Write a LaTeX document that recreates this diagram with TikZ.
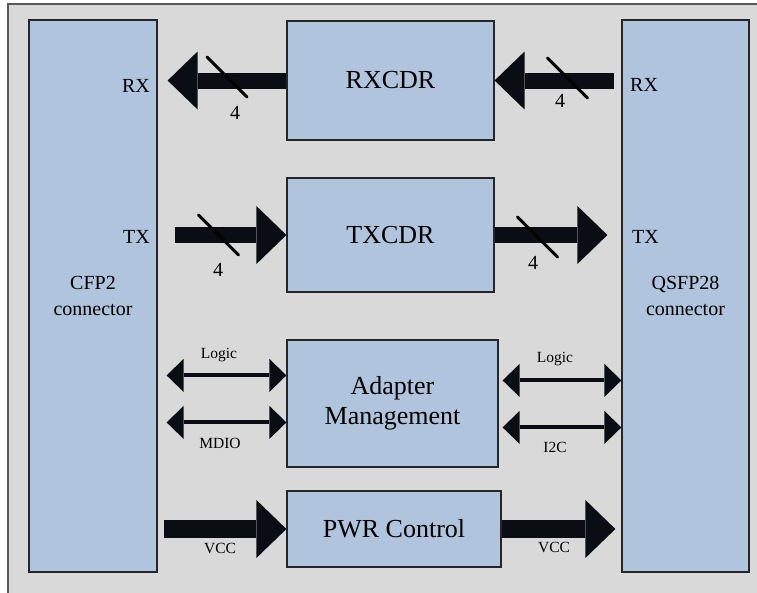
\documentclass[tikz,border=0pt]{standalone}
\usepackage{fontspec}
\setmainfont{Liberation Serif}
\usetikzlibrary{arrows.meta}
\definecolor{boxblue}{HTML}{B0C4DE}
\definecolor{panel}{HTML}{D9D9D9}
\definecolor{ink}{HTML}{0A0E14}

\begin{document}
\begin{tikzpicture}[x=1pt,y=-1pt,
box/.style = {draw=black!85,line width=1.2pt,fill=boxblue,inner sep=0pt,align=center,font=\fontsize{26}{30}\selectfont},
conn/.style = {box,minimum width=128pt,minimum height=552pt,font=\fontsize{20}{26}\selectfont},
pin/.style = {inner sep=0pt,font=\fontsize{20}{24}\selectfont},
small/.style = {inner sep=0pt,font=\fontsize{15.5}{18}\selectfont},
bus/.style = {ink,line width=16pt,-{Triangle[length=30pt,width=58pt,line width=0pt]}},
power/.style = {bus,line width=18pt},
sig/.style = {ink,line width=4pt,{Triangle[length=17pt,width=33pt,line width=0pt]}-{Triangle[length=17pt,width=33pt,line width=0pt]}},
slash/.style = {black,line width=3pt,line cap=round}
]
  \useasboundingbox (0,0) rectangle (757,592);
  \clip (0,0) rectangle (757,592);
  \fill[white] (0,0) rectangle (757,592);
  \draw[draw=black!65,line width=2pt,fill=panel] (8,4) rectangle (770,610);

  % connectors
  \node[conn] (cfp) at (93,296) {CFP2\\connector};
  \node[conn,minimum width=127pt] (qsfp) at (685.5,296) {QSFP28\\connector};
  \node[pin,anchor=base east] (cfprx) at (150,92) {RX};
  \node[pin,anchor=base east] (cfptx) at (150,243) {TX};
  \node[pin,anchor=base west] (qsfprx) at (630,91) {RX};
  \node[pin,anchor=base west] (qsfptx) at (632,243) {TX};

  % blocks
  \node[box,minimum width=207pt,minimum height=119pt] (rxcdr) at (390.5,80.5) {RXCDR};
  \node[box,minimum width=207pt,minimum height=114pt] (txcdr) at (390.5,235) {TXCDR};
  \node[box,minimum width=211pt,minimum height=127pt] (adapt) at (392.5,403.5) {Adapter\\Management};
  \node[box,minimum width=214pt,minimum height=76pt] (pwr) at (394,529) {PWR Control};

  % data lanes
  \draw[bus,shorten >=10pt] (rxcdr.west) -- (rxcdr.west -| cfp.east);
  \draw[bus,shorten <=7pt] (rxcdr.east -| qsfp.west) -- (rxcdr.east);
  \draw[bus,shorten <=17pt] (txcdr.west -| cfp.east) -- (txcdr.west);
  \draw[bus,shorten >=14pt] (txcdr.east) -- (txcdr.east -| qsfp.west);

  \coordinate (s1) at (227,77);
  \coordinate (s2) at (567.5,78);
  \coordinate (s3) at (218.5,235);
  \coordinate (s4) at (537.5,237);
  \foreach \s in {s1,s2,s3,s4}
    \draw[slash] ([shift={(-20,-20)}]\s) -- ([shift={(20,20)}]\s);
  \node[pin,anchor=base] (n1) at (235,119) {4};
  \node[pin,anchor=base] (n2) at (560,107) {4};
  \node[pin,anchor=base] (n3) at (218,276) {4};
  \node[pin,anchor=base] (n4) at (533,269) {4};

  % management
  \coordinate (la) at ([yshift=-36pt]adapt.north west);
  \coordinate (lb) at ([yshift=-83pt]adapt.north west);
  \coordinate (ra) at ([yshift=-41pt]adapt.north east);
  \coordinate (rb) at ([yshift=-88pt]adapt.north east);
  \draw[sig,shorten <=9pt] (la -| cfp.east) -- (la);
  \draw[sig,shorten <=9pt] (lb -| cfp.east) -- (lb);
  \draw[sig,shorten <=4pt] (ra) -- (ra -| qsfp.west);
  \draw[sig,shorten <=4pt] (rb) -- (rb -| qsfp.west);
  \node[small,anchor=base] (lga) at (219,358) {Logic};
  \node[small,anchor=base] (mdio) at (220,448) {MDIO};
  \node[small,anchor=base] (lgb) at (555,362) {Logic};
  \node[small,anchor=base] (i2c) at (555,452) {I2C};

  % power
  \draw[power,shorten <=6pt] (pwr.west -| cfp.east) -- (pwr.west);
  \draw[power,shorten >=6pt] (pwr.east) -- (pwr.east -| qsfp.west);
  \node[small,anchor=base] (vcca) at (220,553) {VCC};
  \node[small,anchor=base] (vccb) at (554,552) {VCC};
\end{tikzpicture}
\end{document}
